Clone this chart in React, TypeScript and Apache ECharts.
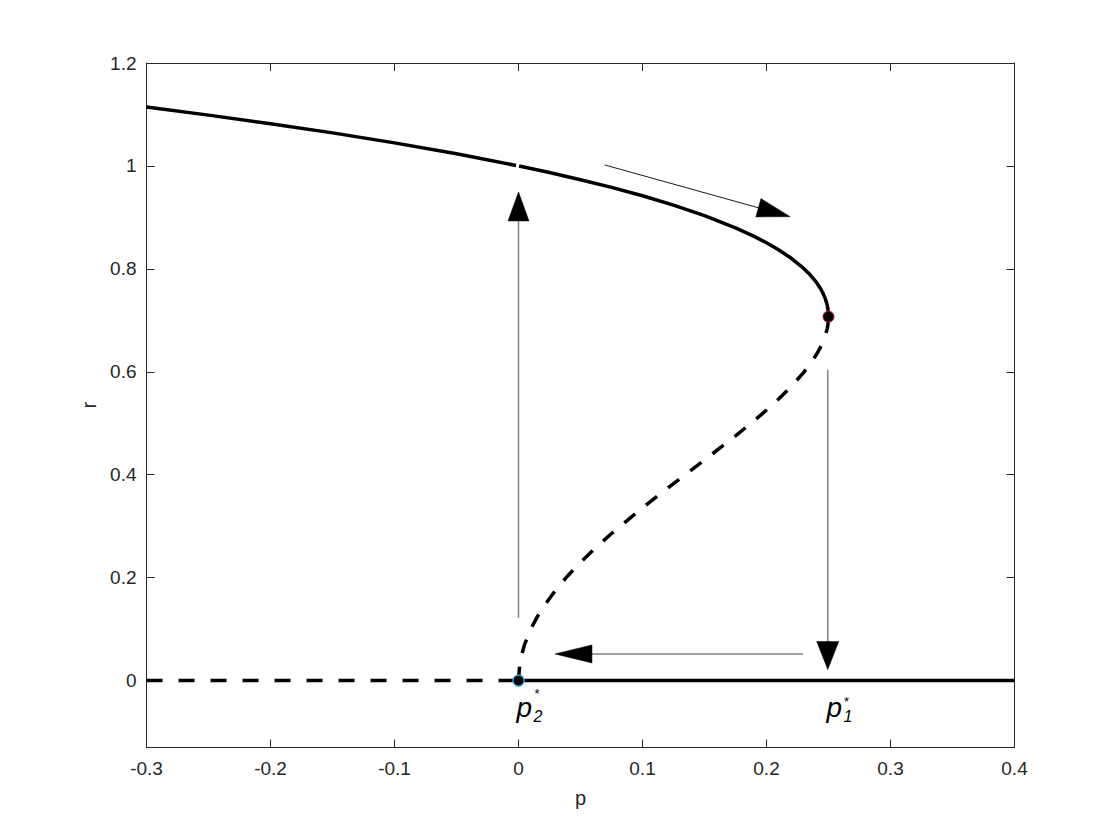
import React, { useEffect, useRef } from "react";
import * as echarts from "echarts";

// ---- data ----
const xTicks = [-0.3, -0.2, -0.1, 0, 0.1, 0.2, 0.3, 0.4];
const yTicks = [0, 0.2, 0.4, 0.6, 0.8, 1, 1.2];

// stable upper branch (split at p = 0 where the reference shows a small gap)
const upperLeft: number[][] = [
  [-0.3, 1.1143], [-0.25, 1.0987], [-0.2, 1.082], [-0.15, 1.0642], [-0.1, 1.0448],
  [-0.05, 1.0236], [-0.002, 1.001],
];
const upperRight: number[][] = [
  [0.0005, 0.9998], [0.025, 0.9871], [0.05, 0.9732], [0.075, 0.9583], [0.1, 0.942],
  [0.125, 0.9239], [0.15, 0.9035], [0.175, 0.8797], [0.19, 0.8631], [0.2, 0.8507],
  [0.21, 0.8367], [0.22, 0.8205], [0.23, 0.8009], [0.235, 0.789], [0.24, 0.7746],
  [0.2425, 0.7659], [0.245, 0.7555], [0.2475, 0.7416], [0.249, 0.7291],
  [0.2495, 0.7228], [0.25, 0.7071],
];
// unstable middle branch (dashed)
const lowerBranch: number[][] = [
  [0, 0], [0.001, 0.0317], [0.0025, 0.0501], [0.005, 0.0709], [0.01, 0.1005],
  [0.015, 0.1234], [0.02, 0.1429], [0.03, 0.176], [0.04, 0.2043], [0.05, 0.2297],
  [0.06, 0.2532], [0.075, 0.2858], [0.1, 0.3357], [0.125, 0.3827], [0.15, 0.4287],
  [0.175, 0.4755], [0.19, 0.505], [0.2, 0.5257], [0.21, 0.5477], [0.22, 0.5717],
  [0.23, 0.5988], [0.235, 0.6144], [0.24, 0.6325], [0.2425, 0.643], [0.245, 0.6552],
  [0.2475, 0.6708], [0.249, 0.6844], [0.2495, 0.6911], [0.25, 0.7071],
];
const zeroUnstable: number[][] = [[-0.3, 0], [0, 0]];
const zeroStable: number[][] = [[0, 0], [0.4, 0]];

const foldPoint: number[][] = [[0.25, 0.7071]];
const originPoint: number[][] = [[0, 0]];

// arrows: [pStart, rStart, pTip, rTip]
const arrows: number[][] = [
  [0, 0.122, 0, 0.9495],
  [0.0694, 1.002, 0.2191, 0.9015],
  [0.2494, 0.604, 0.2494, 0.0214],
  [0.2294, 0.0518, 0.0294, 0.0518],
];

// labels p*_2 and p*_1
const labelAnchors: number[][] = [[0, 0], [0.25, 0]];
const labelSubs = ["2", "1"];

// ---- styles ----
const arrowHeads = [
  { len: 29, w: 21, color: "#808080", width: 1.5 },
  { len: 33, w: 19, color: "#1a1a1a", width: 1 },
  { len: 28, w: 22, color: "#808080", width: 1.5 },
  { len: 37, w: 18, color: "#808080", width: 1.5 },
];
// [star dx, star dy, sub dx, sub dy] in pixels relative to the anchor
const labelOffsets = [
  [16, 13, 15, 36],
  [15.5, 21, 15, 36],
];
const FONT = "'Liberation Sans', Arial, Helvetica, sans-serif";
const AXIS_COLOR = "#262626";

export default function App() {
  const ref = useRef<HTMLDivElement>(null);

  useEffect(() => {
    if (!ref.current) return;
    const chart = echarts.init(ref.current, undefined, { renderer: "svg" });

    const isTick = (v: number, list: number[]) => list.some((t) => Math.abs(t - v) < 1e-6);
    const fmt = (v: number) => {
      const r = Math.round(v * 1000) / 1000;
      return String(r === 0 ? 0 : r);
    };

    const lineBase = {
      type: "line" as const,
      showSymbol: false,
      symbol: "none",
      silent: true,
      z: 3,
    };

    const option: any = {
      animation: false,
      backgroundColor: "#ffffff",
      grid: { left: 146.5, right: 105.5, top: 63, bottom: 92.5, containLabel: false },
      xAxis: [
        {
          type: "value",
          min: -0.3,
          max: 0.4,
          interval: 0.1,
          name: "p",
          nameLocation: "middle",
          nameGap: 40,
          nameTextStyle: { fontFamily: FONT, fontSize: 20, color: AXIS_COLOR },
          axisLine: { show: true, onZero: false, lineStyle: { color: AXIS_COLOR, width: 1 } },
          axisTick: { show: true, inside: true, length: 8, lineStyle: { color: AXIS_COLOR } },
          axisLabel: {
            fontFamily: FONT,
            fontSize: 19,
            color: AXIS_COLOR,
            margin: 11,
            formatter: (v: number) => (isTick(v, xTicks) ? fmt(v) : ""),
          },
          splitLine: { show: false },
        },
        {
          type: "value",
          position: "top",
          min: -0.3,
          max: 0.4,
          interval: 0.1,
          axisLine: { show: true, onZero: false, lineStyle: { color: AXIS_COLOR, width: 1 } },
          axisTick: { show: true, inside: true, length: 8, lineStyle: { color: AXIS_COLOR } },
          axisLabel: { show: false },
          splitLine: { show: false },
        },
      ],
      yAxis: [
        {
          type: "value",
          min: -0.13,
          max: 1.2,
          splitNumber: 7,
          name: "r",
          nameLocation: "middle",
          nameGap: 46,
          nameTextStyle: { fontFamily: FONT, fontSize: 20, color: AXIS_COLOR },
          axisLine: { show: true, onZero: false, lineStyle: { color: AXIS_COLOR, width: 1 } },
          axisTick: {
            show: true,
            inside: true,
            length: 8,
            lineStyle: { color: AXIS_COLOR },
          },
          axisLabel: {
            fontFamily: FONT,
            fontSize: 19,
            color: AXIS_COLOR,
            margin: 10,
            showMinLabel: false,
            formatter: (v: number) => (isTick(v, yTicks) ? fmt(v) : ""),
          },
          splitLine: { show: false },
        },
        {
          type: "value",
          position: "right",
          min: -0.13,
          max: 1.2,
          splitNumber: 7,
          axisLine: { show: true, onZero: false, lineStyle: { color: AXIS_COLOR, width: 1 } },
          axisTick: { show: true, inside: true, length: 8, lineStyle: { color: AXIS_COLOR } },
          axisLabel: { show: false },
          splitLine: { show: false },
        },
      ],
      series: [
        {
          ...lineBase,
          name: "zeroUnstable",
          data: zeroUnstable,
          lineStyle: { color: "#000", width: 3.5, type: [16, 16], cap: "butt" },
        },
        {
          ...lineBase,
          name: "zeroStable",
          data: zeroStable,
          lineStyle: { color: "#000", width: 3.5, type: "solid", cap: "butt" },
        },
        {
          ...lineBase,
          name: "upperLeft",
          data: upperLeft,
          lineStyle: { color: "#000", width: 3.5, type: "solid", cap: "butt" },
        },
        {
          ...lineBase,
          name: "upperRight",
          data: upperRight,
          lineStyle: { color: "#000", width: 3.5, type: "solid", cap: "butt" },
        },
        {
          ...lineBase,
          name: "lower",
          data: lowerBranch,
          lineStyle: { color: "#000", width: 3.5, type: [14, 14], cap: "butt" },
        },
        {
          type: "custom",
          name: "arrows",
          silent: true,
          z: 4,
          clip: false,
          encode: { x: [0, 2], y: [1, 3] },
          data: arrows,
          renderItem: (params: any, api: any) => {
            const i = params.dataIndex;
            const st = arrowHeads[i];
            const s = api.coord([api.value(0), api.value(1)]);
            const e = api.coord([api.value(2), api.value(3)]);
            const dx = e[0] - s[0];
            const dy = e[1] - s[1];
            const L = Math.sqrt(dx * dx + dy * dy) || 1;
            const ux = dx / L;
            const uy = dy / L;
            const bx = e[0] - ux * st.len;
            const by = e[1] - uy * st.len;
            const px = -uy * (st.w / 2);
            const py = ux * (st.w / 2);
            return {
              type: "group",
              children: [
                {
                  type: "line",
                  shape: { x1: s[0], y1: s[1], x2: bx + ux * 1, y2: by + uy * 1 },
                  style: { stroke: st.color, lineWidth: st.width },
                },
                {
                  type: "polygon",
                  shape: {
                    points: [
                      [e[0], e[1]],
                      [bx + px, by + py],
                      [bx - px, by - py],
                    ],
                  },
                  style: { fill: "#000", stroke: "#000", lineWidth: 0.5 },
                },
              ],
            };
          },
        },
        {
          type: "scatter",
          name: "fold",
          data: foldPoint,
          symbol: "circle",
          symbolSize: 11,
          z: 5,
          silent: true,
          itemStyle: { color: "#000", borderColor: "#c8103a", borderWidth: 1, opacity: 1 },
        },
        {
          type: "scatter",
          name: "origin",
          data: originPoint,
          symbol: "circle",
          symbolSize: 11,
          z: 5,
          silent: true,
          itemStyle: { color: "#000", borderColor: "#3fa2dc", borderWidth: 1.2, opacity: 1 },
        },
        {
          type: "custom",
          name: "labels",
          silent: true,
          z: 6,
          clip: false,
          data: labelAnchors,
          renderItem: (params: any, api: any) => {
            const i = params.dataIndex;
            const pt = api.coord([api.value(0), api.value(1)]);
            const o = labelOffsets[i];
            return {
              type: "group",
              children: [
                {
                  type: "text",
                  x: pt[0] - 2,
                  y: pt[1] + 27,
                  style: {
                    text: "p",
                    fontFamily: FONT,
                    fontSize: 28,
                    fontStyle: "italic",
                    fill: "#000",
                    align: "left",
                    verticalAlign: "middle",
                  },
                },
                {
                  type: "text",
                  x: pt[0] + o[0],
                  y: pt[1] + o[1],
                  style: {
                    text: "*",
                    fontFamily: FONT,
                    fontSize: 13,
                    fill: "#000",
                    align: "left",
                    verticalAlign: "middle",
                  },
                },
                {
                  type: "text",
                  x: pt[0] + o[2],
                  y: pt[1] + o[3],
                  style: {
                    text: labelSubs[i],
                    fontFamily: FONT,
                    fontSize: 16,
                    fontStyle: "italic",
                    fill: "#000",
                    align: "left",
                    verticalAlign: "middle",
                  },
                },
              ],
            };
          },
        },
      ],
    };

    chart.setOption(option);
    return () => chart.dispose();
  }, []);

  return (
    <div
      ref={ref}
      style={{ position: "fixed", left: 0, top: 0, width: 1120, height: 840, background: "#fff" }}
    />
  );
}
